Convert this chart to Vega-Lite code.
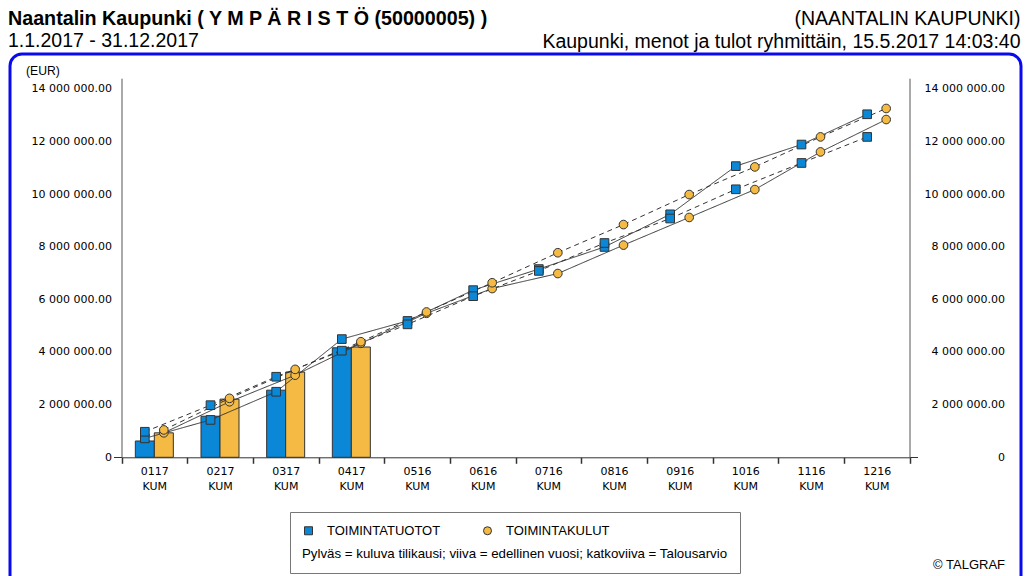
{
  "$schema": "https://vega.github.io/schema/vega-lite/v6.json",
  "width": 1011,
  "height": 540,
  "autosize": {"type": "none"},
  "padding": {"left": 10, "top": 54, "right": 6, "bottom": -18},
  "background": "white",
  "config": {
    "font": "Liberation Sans",
    "locale": {"number": {"decimal": ".", "thousands": " ", "grouping": [3], "currency": ["", ""]}},
    "view": {"stroke": "#0a0af0", "strokeWidth": 3, "cornerRadius": 12},
    "axis": {"grid": false, "labelColor": "black", "labelFont": "DejaVu Sans", "labelFontSize": 11, "domainColor": "#555", "tickColor": "#333", "titleColor": "black", "titleFontWeight": "normal", "titleFontSize": 12.2}
  },
  "title": {
    "text": "Naantalin Kaupunki ( Y M P Ä R I S T Ö (50000005) )",
    "subtitle": "1.1.2017 - 31.12.2017",
    "anchor": "start",
    "frame": "group",
    "fontSize": 19.7,
    "fontWeight": "bold",
    "color": "black",
    "subtitleFontSize": 19.5,
    "subtitleColor": "black",
    "subtitlePadding": 3,
    "offset": -42,
    "dx": -2
  },
  "datasets": {
    "bars": [
      {"month": "0117", "series": "TOIMINTATUOTOT", "value": 620000},
      {"month": "0117", "series": "TOIMINTAKULUT", "value": 930000},
      {"month": "0217", "series": "TOIMINTATUOTOT", "value": 1560000},
      {"month": "0217", "series": "TOIMINTAKULUT", "value": 2210000},
      {"month": "0317", "series": "TOIMINTATUOTOT", "value": 2550000},
      {"month": "0317", "series": "TOIMINTAKULUT", "value": 3240000},
      {"month": "0417", "series": "TOIMINTATUOTOT", "value": 4160000},
      {"month": "0417", "series": "TOIMINTAKULUT", "value": 4190000}
    ],
    "lines": [
      {"month": "0117", "series": "TOIMINTATUOTOT", "kind": "edellinen vuosi", "value": 720000},
      {"month": "0217", "series": "TOIMINTATUOTOT", "kind": "edellinen vuosi", "value": 1420000},
      {"month": "0317", "series": "TOIMINTATUOTOT", "kind": "edellinen vuosi", "value": 2490000},
      {"month": "0417", "series": "TOIMINTATUOTOT", "kind": "edellinen vuosi", "value": 4490000},
      {"month": "0516", "series": "TOIMINTATUOTOT", "kind": "edellinen vuosi", "value": 5180000},
      {"month": "0616", "series": "TOIMINTATUOTOT", "kind": "edellinen vuosi", "value": 6350000},
      {"month": "0716", "series": "TOIMINTATUOTOT", "kind": "edellinen vuosi", "value": 7150000},
      {"month": "0816", "series": "TOIMINTATUOTOT", "kind": "edellinen vuosi", "value": 7990000},
      {"month": "0916", "series": "TOIMINTATUOTOT", "kind": "edellinen vuosi", "value": 9230000},
      {"month": "1016", "series": "TOIMINTATUOTOT", "kind": "edellinen vuosi", "value": 11060000},
      {"month": "1116", "series": "TOIMINTATUOTOT", "kind": "edellinen vuosi", "value": 11880000},
      {"month": "1216", "series": "TOIMINTATUOTOT", "kind": "edellinen vuosi", "value": 13030000},
      {"month": "0117", "series": "TOIMINTATUOTOT", "kind": "Talousarvio", "value": 970000},
      {"month": "0217", "series": "TOIMINTATUOTOT", "kind": "Talousarvio", "value": 1980000},
      {"month": "0317", "series": "TOIMINTATUOTOT", "kind": "Talousarvio", "value": 3060000},
      {"month": "0417", "series": "TOIMINTATUOTOT", "kind": "Talousarvio", "value": 4050000},
      {"month": "0516", "series": "TOIMINTATUOTOT", "kind": "Talousarvio", "value": 5050000},
      {"month": "0616", "series": "TOIMINTATUOTOT", "kind": "Talousarvio", "value": 6120000},
      {"month": "0716", "series": "TOIMINTATUOTOT", "kind": "Talousarvio", "value": 7080000},
      {"month": "0816", "series": "TOIMINTATUOTOT", "kind": "Talousarvio", "value": 8140000},
      {"month": "0916", "series": "TOIMINTATUOTOT", "kind": "Talousarvio", "value": 9070000},
      {"month": "1016", "series": "TOIMINTATUOTOT", "kind": "Talousarvio", "value": 10180000},
      {"month": "1116", "series": "TOIMINTATUOTOT", "kind": "Talousarvio", "value": 11180000},
      {"month": "1216", "series": "TOIMINTATUOTOT", "kind": "Talousarvio", "value": 12170000},
      {"month": "0117", "series": "TOIMINTAKULUT", "kind": "edellinen vuosi", "value": 930000},
      {"month": "0217", "series": "TOIMINTAKULUT", "kind": "edellinen vuosi", "value": 2110000},
      {"month": "0317", "series": "TOIMINTAKULUT", "kind": "edellinen vuosi", "value": 3120000},
      {"month": "0417", "series": "TOIMINTAKULUT", "kind": "edellinen vuosi", "value": 4330000},
      {"month": "0516", "series": "TOIMINTAKULUT", "kind": "edellinen vuosi", "value": 5470000},
      {"month": "0616", "series": "TOIMINTAKULUT", "kind": "edellinen vuosi", "value": 6410000},
      {"month": "0716", "series": "TOIMINTAKULUT", "kind": "edellinen vuosi", "value": 6980000},
      {"month": "0816", "series": "TOIMINTAKULUT", "kind": "edellinen vuosi", "value": 8060000},
      {"month": "0916", "series": "TOIMINTAKULUT", "kind": "edellinen vuosi", "value": 9110000},
      {"month": "1016", "series": "TOIMINTAKULUT", "kind": "edellinen vuosi", "value": 10170000},
      {"month": "1116", "series": "TOIMINTAKULUT", "kind": "edellinen vuosi", "value": 11600000},
      {"month": "1216", "series": "TOIMINTAKULUT", "kind": "edellinen vuosi", "value": 12830000},
      {"month": "0117", "series": "TOIMINTAKULUT", "kind": "Talousarvio", "value": 1040000},
      {"month": "0217", "series": "TOIMINTAKULUT", "kind": "Talousarvio", "value": 2240000},
      {"month": "0317", "series": "TOIMINTAKULUT", "kind": "Talousarvio", "value": 3340000},
      {"month": "0417", "series": "TOIMINTAKULUT", "kind": "Talousarvio", "value": 4390000},
      {"month": "0516", "series": "TOIMINTAKULUT", "kind": "Talousarvio", "value": 5520000},
      {"month": "0616", "series": "TOIMINTAKULUT", "kind": "Talousarvio", "value": 6630000},
      {"month": "0716", "series": "TOIMINTAKULUT", "kind": "Talousarvio", "value": 7770000},
      {"month": "0816", "series": "TOIMINTAKULUT", "kind": "Talousarvio", "value": 8840000},
      {"month": "0916", "series": "TOIMINTAKULUT", "kind": "Talousarvio", "value": 9980000},
      {"month": "1016", "series": "TOIMINTAKULUT", "kind": "Talousarvio", "value": 11030000},
      {"month": "1116", "series": "TOIMINTAKULUT", "kind": "Talousarvio", "value": 12170000},
      {"month": "1216", "series": "TOIMINTAKULUT", "kind": "Talousarvio", "value": 13250000}
    ]
  },
  "resolve": {"axis": {"x": "independent", "y": "independent"}},
  "layer": [
    {
      "data": {"name": "bars"},
      "mark": {"type": "bar", "stroke": "#333", "strokeWidth": 1},
      "encoding": {
        "x": {
          "field": "month", "type": "nominal",
          "scale": {"domain": ["0117","0217","0317","0417","0516","0616","0716","0816","0916","1016","1116","1216"], "range": [111.5, 899.5], "paddingInner": 0, "paddingOuter": 0},
          "axis": {"orient": "bottom", "offset": -136.7, "title": null, "labelAngle": 0, "labelExpr": "datum.label ? [datum.label, 'KUM'] : ''", "labelLineHeight": 15, "labelPadding": 2, "labelBaseline": "top", "tickBand": "extent", "tickSize": 6, "tickWidth": 1.5, "domainColor": "#333"}
        },
        "xOffset": {"field": "series", "type": "nominal", "scale": {"domain": ["TOIMINTATUOTOT", "TOIMINTAKULUT"], "paddingInner": 0, "paddingOuter": 0.728}},
        "y": {
          "field": "value", "type": "quantitative",
          "scale": {"domain": [0, 14400000], "range": [403.3, 24.2], "nice": false},
          "axis": {"orient": "left", "offset": -111.5, "values": [0, 2000000, 4000000, 6000000, 8000000, 10000000, 12000000, 14000000], "format": ",.2f", "labelExpr": "datum.value == 0 ? '0' : datum.label", "tickSize": 8, "tickColor": {"condition": {"test": "datum.value == 0", "value": "#333"}, "value": "transparent"}, "labelPadding": 2, "title": "(EUR)", "titleAngle": 0, "titleAlign": "left", "titleBaseline": "middle", "titleX": -96, "titleY": 16}
        },
        "color": {
          "field": "series", "type": "nominal",
          "scale": {"domain": ["TOIMINTATUOTOT", "TOIMINTAKULUT"], "range": ["#0a87d6", "#f4ba44"]},
          "legend": {"orient": "none", "legendX": 280, "legendY": 458, "direction": "horizontal", "columns": 2, "title": "Pylväs = kuluva tilikausi; viiva = edellinen vuosi; katkoviiva = Talousarvio", "titleOrient": "bottom", "titleAnchor": "start", "titlePadding": 9, "titleFontSize": 13.3, "titleFontWeight": "normal", "titleColor": "black", "titleLimit": 700, "labelFontSize": 13, "labelColor": "black", "labelOffset": 12, "labelLimit": 300, "columnPadding": 40, "padding": 12, "strokeColor": "#777", "symbolStrokeColor": "#333", "symbolStrokeWidth": 1, "symbolSize": 64}
        }
      }
    },
    {
      "data": {"name": "lines"},
      "mark": {"type": "line", "color": "#333", "strokeWidth": 1},
      "encoding": {
        "x": {
          "field": "month", "type": "nominal",
          "scale": {"domain": ["0117","0217","0317","0417","0516","0616","0716","0816","0916","1016","1116","1216"], "range": [111.5, 899.5], "paddingInner": 0, "paddingOuter": 0},
          "axis": {"orient": "top", "labels": false, "ticks": false, "domain": false, "title": ["(NAANTALIN KAUPUNKI)", "Kaupunki, menot ja tulot ryhmittäin, 15.5.2017 14:03:40"], "titleX": 1010, "titleY": -30, "titleAlign": "right", "titleBaseline": "alphabetic", "titleFontSize": 19.5, "titleLineHeight": 23}
        },
        "xOffset": {"field": "series", "type": "nominal", "scale": {"domain": ["TOIMINTATUOTOT", "TOIMINTAKULUT"], "paddingInner": 0, "paddingOuter": 0.728}},
        "y": {
          "field": "value", "type": "quantitative",
          "scale": {"domain": [0, 14400000], "range": [403.3, 24.2], "nice": false},
          "axis": {"orient": "right", "offset": -111.5, "values": [0, 2000000, 4000000, 6000000, 8000000, 10000000, 12000000, 14000000], "format": ",.2f", "labelExpr": "datum.value == 0 ? '0' : datum.label", "labelAlign": "right", "labelPadding": 87, "tickSize": 8, "tickColor": {"condition": {"test": "datum.value == 0", "value": "#333"}, "value": "transparent"}, "title": "© TALGRAF", "titleFontSize": 13, "titleAngle": 0, "titleAlign": "right", "titleBaseline": "middle", "titleX": 95, "titleY": 510}
        },
        "strokeDash": {"field": "kind", "type": "nominal", "scale": {"domain": ["edellinen vuosi", "Talousarvio"], "range": [[1, 0], [5, 4]]}, "legend": null},
        "detail": {"field": "series"}
      }
    },
    {
      "data": {"name": "lines"},
      "mark": {"type": "point", "filled": true, "stroke": "#333", "strokeWidth": 1, "size": 75, "opacity": 1},
      "encoding": {
        "x": {
          "field": "month", "type": "nominal",
          "scale": {"domain": ["0117","0217","0317","0417","0516","0616","0716","0816","0916","1016","1116","1216"], "range": [111.5, 899.5], "paddingInner": 0, "paddingOuter": 0},
          "axis": null
        },
        "xOffset": {"field": "series", "type": "nominal", "scale": {"domain": ["TOIMINTATUOTOT", "TOIMINTAKULUT"], "paddingInner": 0, "paddingOuter": 0.728}},
        "y": {
          "field": "value", "type": "quantitative",
          "scale": {"domain": [0, 14400000], "range": [403.3, 24.2], "nice": false},
          "axis": null
        },
        "color": {
          "field": "series", "type": "nominal",
          "scale": {"domain": ["TOIMINTATUOTOT", "TOIMINTAKULUT"], "range": ["#0a87d6", "#f4ba44"]},
          "legend": {"orient": "none", "legendX": 280, "legendY": 458, "direction": "horizontal", "columns": 2, "title": "Pylväs = kuluva tilikausi; viiva = edellinen vuosi; katkoviiva = Talousarvio", "titleOrient": "bottom", "titleAnchor": "start", "titlePadding": 9, "titleFontSize": 13.3, "titleFontWeight": "normal", "titleColor": "black", "titleLimit": 700, "labelFontSize": 13, "labelColor": "black", "labelOffset": 12, "labelLimit": 300, "columnPadding": 40, "padding": 12, "strokeColor": "#777", "symbolStrokeColor": "#333", "symbolStrokeWidth": 1, "symbolSize": 64}
        },
        "shape": {
          "field": "series", "type": "nominal",
          "scale": {"domain": ["TOIMINTATUOTOT", "TOIMINTAKULUT"], "range": ["square", "circle"]},
          "legend": {"orient": "none", "legendX": 280, "legendY": 458, "direction": "horizontal", "columns": 2, "title": "Pylväs = kuluva tilikausi; viiva = edellinen vuosi; katkoviiva = Talousarvio", "titleOrient": "bottom", "titleAnchor": "start", "titlePadding": 9, "titleFontSize": 13.3, "titleFontWeight": "normal", "titleColor": "black", "titleLimit": 700, "labelFontSize": 13, "labelColor": "black", "labelOffset": 12, "labelLimit": 300, "columnPadding": 40, "padding": 12, "strokeColor": "#777", "symbolStrokeColor": "#333", "symbolStrokeWidth": 1, "symbolSize": 64}
        }
      }
    }
  ]
}
